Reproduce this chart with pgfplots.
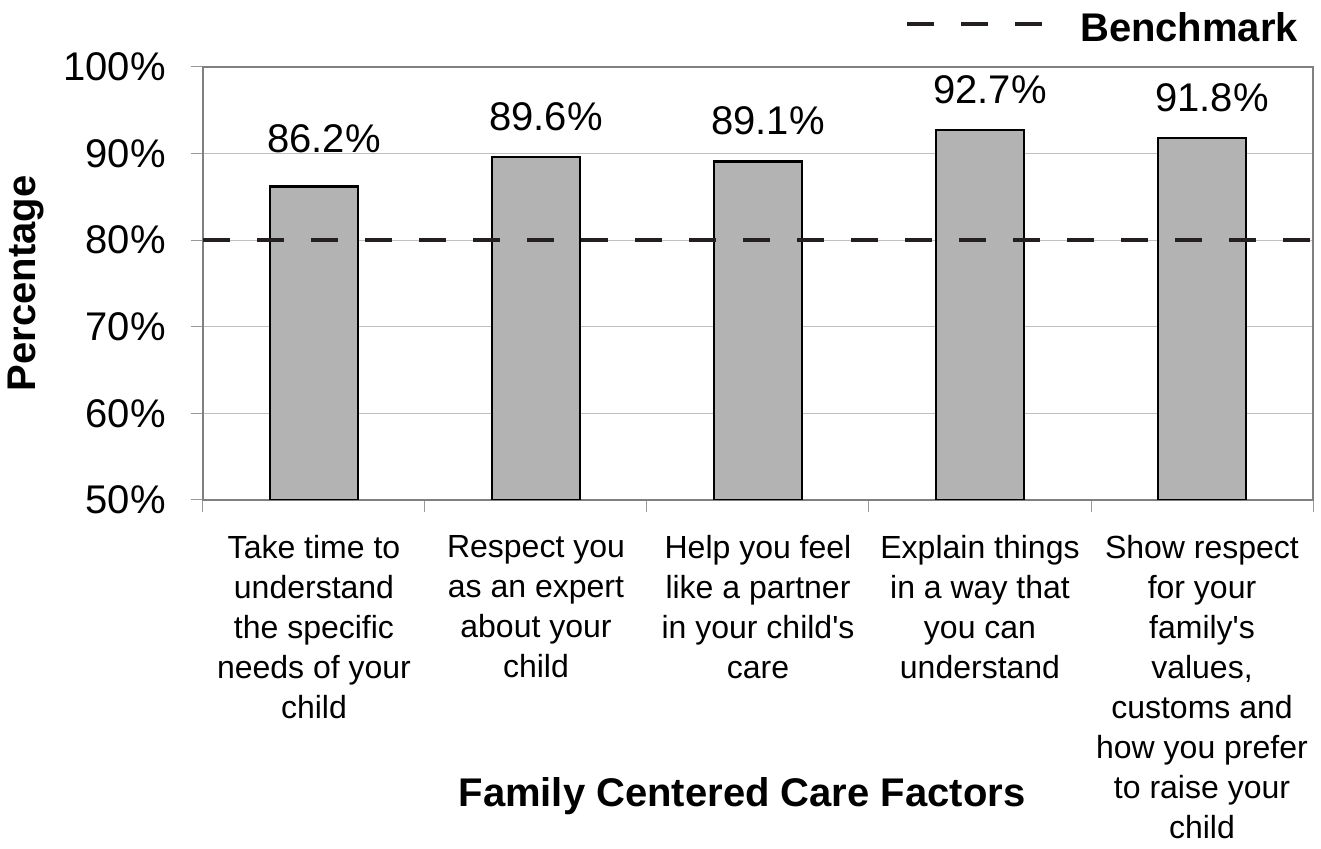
\documentclass[border=0pt]{standalone}
\usepackage{fontspec}
\setmainfont{Liberation Sans}
\usepackage{pgfplots}
\pgfplotsset{compat=1.18}
\definecolor{barfill}{HTML}{B3B3B3}
\definecolor{bench}{HTML}{231F20}
\definecolor{axisgray}{HTML}{808080}
\definecolor{gridgray}{HTML}{C0C0C0}
\begin{document}
\begin{tikzpicture}
\path[use as bounding box] (-101.5pt,-174.5pt) rectangle (559pt,250pt);
\begin{axis}[
  at={(0pt,0pt)}, anchor=south west,
  scale only axis, width=555pt, height=216.5pt,
  xmin=0.5, xmax=5.5, ymin=50, ymax=100,
  axis line style={draw=axisgray, line width=1pt},
  xtick={0.5,1.5,2.5,3.5,4.5,5.5},
  xticklabels={},
  extra x ticks={1,2,3,4,5},
  extra x tick labels={
    {Take time to\\understand\\the specific\\needs of your\\child},
    {Respect you\\as an expert\\about your\\child},
    {Help you feel\\like a partner\\in your child\textquotesingle s\\care},
    {Explain things\\in a way that\\you can\\understand},
    {Show respect\\for your\\family\textquotesingle s\\values,\\customs and\\how you prefer\\to raise your\\child}},
  extra x tick style={major tick length=0pt, tick style={draw=none}, grid=none},
  xticklabel style={align=center, anchor=north, inner sep=0pt, yshift=-17.4pt,
    font=\fontsize{16}{20}\selectfont, execute at begin node=\strut},
  ytick={50,60,70,80,90,100},
  yticklabels={50\%,60\%,70\%,80\%,90\%,100\%},
  yticklabel style={anchor=east, inner sep=0pt, xshift=-12.5pt,
    font=\fontsize{20}{24}\selectfont},
  major tick length=6pt,
  tick align=outside, tick pos=left,
  tick style={draw=axisgray!80, line width=0.5pt},
  ymajorgrids, grid style={draw=gridgray, line width=0.5pt},
  xlabel={Family Centered Care Factors},
  xlabel style={at={(axis description cs:0.4856,-0.709)}, anchor=base, inner sep=0pt,
    font=\bfseries\fontsize{20}{24}\selectfont},
  ylabel={Percentage},
  ylabel style={at={(axis description cs:-0.1757,0.5)}, anchor=north, inner sep=0pt,
    font=\bfseries\fontsize{20}{24}\selectfont},
  legend style={at={(axis description cs:0.98649,1.0531)}, anchor=south east,
    draw=none, fill=none, inner sep=0pt, outer sep=0pt,
    font=\bfseries\fontsize{20}{24}\selectfont,
    nodes={inner sep=0pt},
    /tikz/every odd column/.append style={column sep=17.5pt}},
  legend image code/.code={\draw[#1] (0pt,2pt) -- (68pt,2pt);},
]
\addplot[ybar, bar width=44pt, fill=barfill, draw=black, line width=1.2pt, forget plot,
  nodes near coords={\pgfmathprintnumber[fixed,fixed zerofill,precision=1,assume math mode=true]{\pgfplotspointmeta}\%},
  visualization depends on={\thisrow{off}\as\myoff},
  every node near coord/.append style={anchor=base, inner sep=0pt, yshift=\myoff pt, xshift=5pt,
    font=\fontsize{20}{24}\selectfont, text=black},
] table {
x y off
1 86.2 17
2 89.6 13.25
3 89.1 13.25
4 92.7 13.25
5 91.8 13.25
};
\addplot[bench, line width=2pt, dash pattern=on 13.5pt off 13.5pt] coordinates {(0.5,80) (5.5,80)};
\addlegendentry{Benchmark}
\end{axis}
\end{tikzpicture}
\end{document}
